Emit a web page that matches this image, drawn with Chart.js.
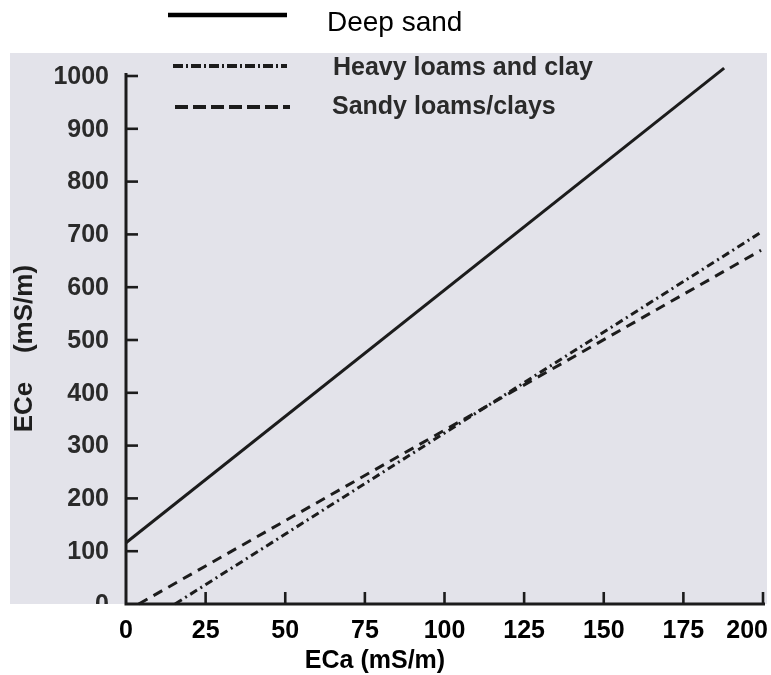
<!DOCTYPE html>
<html>
<head>
<meta charset="utf-8">
<script src="https://cdn.jsdelivr.net/npm/chart.js@4.4.1/dist/chart.umd.min.js"></script>
<style>
  html, body { margin: 0; padding: 0; background: #ffffff; }
  #wrap { width: 771px; height: 675px; }
</style>
</head>
<body>
<div id="wrap"><canvas id="c" width="771" height="675"></canvas></div>
<script>
// ---- Data ----
const seriesLabels = ['Deep sand', 'Heavy loams and clay', 'Sandy loams/clays'];
const deepSandECa = [0, 187.8];
const deepSandECe = [116, 1015];
const heavyLoamECa = [15.4, 199.4];
const heavyLoamECe = [0, 704];
const sandyLoamECa = [4, 199.4];
const sandyLoamECe = [0, 670];
const xTickValues = [0, 25, 50, 75, 100, 125, 150, 175, 200];
const yTickValues = [0, 100, 200, 300, 400, 500, 600, 700, 800, 900, 1000];
const xTitle = 'ECa (mS/m)';
const yTitleParts = ['ECe', '(mS/m)'];

function pts(xs, ys) { return xs.map((x, i) => ({ x: x, y: ys[i] })); }

const FONT = '"Liberation Sans", Arial, Helvetica, sans-serif';
const INK = '#1c1c1c';

const decorPlugin = {
  id: 'decor',
  beforeDraw(chart) {
    const ctx = chart.ctx;
    ctx.save();
    ctx.fillStyle = '#ffffff';
    ctx.fillRect(0, 0, chart.width, chart.height);
    ctx.fillStyle = 'rgb(227,227,234)';
    ctx.fillRect(10, 53, 757, 551);
    ctx.restore();
  },
  afterDraw(chart) {
    const ctx = chart.ctx;
    const xs = chart.scales.x, ys = chart.scales.y;
    const x0 = xs.getPixelForValue(0);
    const y0 = ys.getPixelForValue(0);
    ctx.save();
    ctx.strokeStyle = INK;
    ctx.lineCap = 'butt';
    // axes
    ctx.lineWidth = 3;
    ctx.beginPath();
    ctx.moveTo(x0, ys.getPixelForValue(1000) - 3);
    ctx.lineTo(x0, y0);
    ctx.lineTo(xs.getPixelForValue(200) + 2, y0);
    ctx.stroke();
    // y ticks (inward)
    ctx.lineWidth = 2.6;
    yTickValues.forEach(v => {
      if (v === 0) return;
      const y = ys.getPixelForValue(v);
      ctx.beginPath(); ctx.moveTo(x0, y); ctx.lineTo(x0 + 12, y); ctx.stroke();
    });
    // x ticks (upward)
    xTickValues.forEach(v => {
      if (v === 0) return;
      const x = xs.getPixelForValue(v);
      ctx.beginPath(); ctx.moveTo(x, y0); ctx.lineTo(x, y0 - 12); ctx.stroke();
    });
    // y tick labels (clipped to grey panel)
    ctx.save();
    ctx.beginPath(); ctx.rect(0, 53, 771, 551); ctx.clip();
    ctx.fillStyle = '#2a2a2a';
    ctx.font = 'bold 25px ' + FONT;
    ctx.textAlign = 'right';
    ctx.textBaseline = 'middle';
    yTickValues.forEach(v => {
      ctx.fillText(String(v), 109, ys.getPixelForValue(v) + 1);
    });
    ctx.restore();
    // x tick labels
    ctx.fillStyle = '#000000';
    ctx.font = 'bold 25px ' + FONT;
    ctx.textBaseline = 'middle';
    ctx.textAlign = 'center';
    xTickValues.forEach(v => {
      let x = xs.getPixelForValue(v);
      const w = ctx.measureText(String(v)).width;
      if (x + w / 2 > 768) x = 768 - w / 2;
      ctx.fillText(String(v), x, 631);
    });
    // x title
    ctx.fillText(xTitle, 375, 661);
    // y title
    ctx.save();
    ctx.translate(25, 0);
    ctx.rotate(-Math.PI / 2);
    ctx.fillStyle = '#1e1e1e';
    ctx.font = 'bold 26px ' + FONT;
    ctx.textAlign = 'center';
    ctx.textBaseline = 'middle';
    ctx.fillText(yTitleParts[0], -407, 0);
    ctx.fillText(yTitleParts[1], -309, 0);
    ctx.restore();
    // legend
    const ds = chart.data.datasets;
    const leg = [
      { x1: 168, x2: 287, y: 15, tx: 327, ty: 23, lw: 4.5, font: '28px ' + FONT, color: '#000' },
      { x1: 173, x2: 287, y: 66, tx: 333, ty: 68, lw: 4, font: 'bold 25px ' + FONT, color: '#2a2a2a' },
      { x1: 175, x2: 290, y: 107, tx: 332, ty: 107, lw: 4, font: 'bold 25px ' + FONT, color: '#2a2a2a' }
    ];
    leg.forEach((L, i) => {
      ctx.save();
      ctx.strokeStyle = i === 0 ? '#000' : INK;
      ctx.lineWidth = L.lw;
      ctx.setLineDash(ds[i].legendDash || []);
      ctx.beginPath(); ctx.moveTo(L.x1, L.y); ctx.lineTo(L.x2, L.y); ctx.stroke();
      ctx.restore();
      ctx.fillStyle = L.color;
      ctx.font = L.font;
      ctx.textAlign = 'left';
      ctx.textBaseline = 'middle';
      ctx.fillText(ds[i].label, L.tx, L.ty);
    });
    ctx.restore();
  }
};

new Chart(document.getElementById('c'), {
  type: 'line',
  data: {
    datasets: [
      { label: seriesLabels[0], data: pts(deepSandECa, deepSandECe), borderColor: INK, borderWidth: 3, pointRadius: 0, clip: false, legendDash: [] },
      { label: seriesLabels[1], data: pts(heavyLoamECa, heavyLoamECe), borderColor: INK, borderWidth: 3, borderDash: [8, 4, 2, 4], pointRadius: 0, clip: false, legendDash: [10, 3, 2, 3] },
      { label: seriesLabels[2], data: pts(sandyLoamECa, sandyLoamECe), borderColor: INK, borderWidth: 3, borderDash: [10, 7], pointRadius: 0, clip: false, legendDash: [13, 5] }
    ]
  },
  options: {
    responsive: false,
    animation: false,
    devicePixelRatio: 1,
    layout: { padding: { left: 126, right: 8, top: 76, bottom: 71 } },
    plugins: { legend: { display: false }, tooltip: { enabled: false } },
    scales: {
      x: { type: 'linear', min: 0, max: 200, display: false },
      y: { type: 'linear', min: 0, max: 1000, display: false }
    }
  },
  plugins: [decorPlugin]
});
</script>
</body>
</html>
